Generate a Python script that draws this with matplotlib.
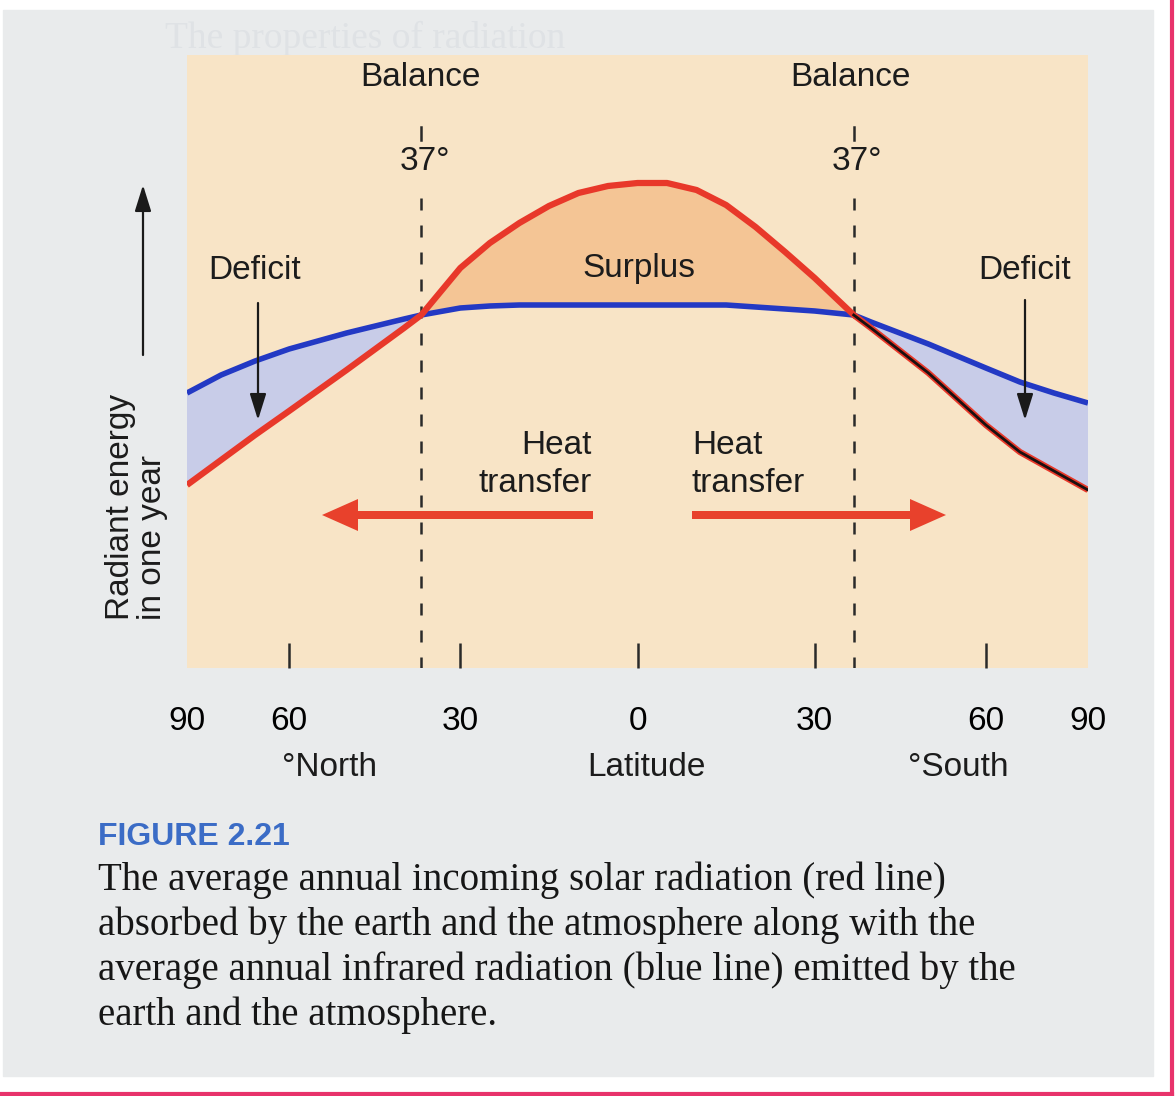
import numpy as np
import matplotlib
matplotlib.use('Agg')
import matplotlib.pyplot as plt
from matplotlib.patches import Rectangle, FancyArrow

plt.rcParams['font.family'] = ['Liberation Sans', 'DejaVu Sans']

# latitude, north negative / south positive
lat = [-90, -80, -70, -60, -50, -40, -37, -30, -25, -20, -15, -10, -5, 0,
       5, 10, 15, 20, 25, 30, 37, 40, 50, 60, 70, 80, 90]
# absorbed solar radiation (red line), arbitrary units
solar = [183, 208, 233, 257, 298, 340, 353, 400, 425, 445, 462, 475, 482, 485,
         485, 478, 463, 441, 416, 390, 353, 340, 295, 243, 216, 197, 178]
# emitted infrared radiation (blue line), arbitrary units
infrared = [275, 293, 307, 319, 335, 349, 353, 360, 362, 363, 363, 363, 363, 363,
            363, 363, 363, 361, 359, 357, 353, 346, 324, 300, 286, 275, 265]

tick_lat = [-90, -60, -30, 0, 30, 60, 90]
tick_txt = ['90', '60', '30', '0', '30', '60', '90']
balance_lat = [-37, 37]

# latitude axis is stretched like in the book figure
knot_lat = [0, 30, 37, 60, 90]
knot_pos = [0, 177, 216, 348, 450]

def fwd(x):
    x = np.asarray(x, dtype=float)
    return np.sign(x) * np.interp(np.abs(x), knot_lat, knot_pos)

def inv(x):
    x = np.asarray(x, dtype=float)
    return np.sign(x) * np.interp(np.abs(x), knot_pos, knot_lat)

W, H = 1176, 1096
def fx(x):
    return x / W
def fy(y):
    return 1 - y / H

fig = plt.figure(figsize=(W / 100, H / 100), dpi=100)
fig.patch.set_facecolor('white')

# page background + pink frame
fig.add_artist(Rectangle((fx(3), fy(1076)), fx(1153) - fx(3), fy(10) - fy(1076),
                         transform=fig.transFigure, color='#e9ebec', zorder=-3))
fig.add_artist(plt.Line2D([fx(1172), fx(1172)], [0, 1], transform=fig.transFigure,
                          color='#e8336b', lw=3, zorder=-2))
fig.add_artist(plt.Line2D([0, fx(1172)], [fy(1094), fy(1094)], transform=fig.transFigure,
                          color='#e8336b', lw=3, zorder=-2))
fig.text(fx(165), fy(38), 'The properties of radiation', family='Liberation Serif',
         fontsize=27, color='#dfe2e5', va='center', zorder=-1)

ax = fig.add_axes([fx(187), fy(668), fx(1088) - fx(187), fy(55) - fy(668)])
ax.set_facecolor('#f8e4c6')
for s in ax.spines.values():
    s.set_visible(False)
ax.set_xscale('function', functions=(fwd, inv))
ax.set_xlim(-90, 90)
ax.set_ylim(0, 613)

lat_a = np.array(lat)
sol = np.array(solar)
ir = np.array(infrared)

ax.fill_between(lat_a, sol, ir, where=sol >= ir, interpolate=True, color='#f4c595', lw=0, zorder=1)
ax.fill_between(lat_a, sol, ir, where=sol <= ir, interpolate=True, color='#c8cce8', lw=0, zorder=1)

ax.plot(lat_a, ir, color='#2339c4', lw=4, solid_capstyle='butt', solid_joinstyle='round', zorder=3)
ax.plot(lat_a, sol, color='#e8382a', lw=4.5, solid_capstyle='butt', solid_joinstyle='round', zorder=4)
south = lat_a >= 37
ax.plot(lat_a[south], sol[south], color='#1a1010', lw=2, zorder=5)

# balance lines at 37 degrees
for b in balance_lat:
    ax.plot([b, b], [470, 0], color='#2a2a2a', lw=1.8, ls=(0, (4.8, 6)), zorder=2)
    ax.plot([b, b], [541, 528], color='#2a2a2a', lw=1.8, zorder=2)

ax.set_yticks([])
ax.set_xticks(tick_lat)
ax.set_xticklabels(tick_txt)
ax.tick_params(axis='x', direction='in', length=18, width=1.8, color='#2a2a2a',
               labelsize=24, pad=27)
for t in (ax.xaxis.get_major_ticks()[0], ax.xaxis.get_major_ticks()[-1]):
    t.tick1line.set_visible(False)

txt = dict(fontsize=24, color='#1c1c1c')
fig.text(fx(420), fy(78), 'Balance', ha='center', va='center', **txt)
fig.text(fx(850), fy(78), 'Balance', ha='center', va='center', **txt)
fig.text(fx(425), fy(162), '37°', ha='center', va='center', **txt)
fig.text(fx(857), fy(162), '37°', ha='center', va='center', **txt)
fig.text(fx(639), fy(268), 'Surplus', ha='center', va='center', **txt)
fig.text(fx(255), fy(270), 'Deficit', ha='center', va='center', **txt)
fig.text(fx(1025), fy(270), 'Deficit', ha='center', va='center', **txt)
fig.text(fx(592), fy(446), 'Heat', ha='right', va='center', **txt)
fig.text(fx(592), fy(483), 'transfer', ha='right', va='center', **txt)
fig.text(fx(692), fy(446), 'Heat', ha='left', va='center', **txt)
fig.text(fx(692), fy(483), 'transfer', ha='left', va='center', **txt)
fig.text(fx(330), fy(767), '°North', ha='center', va='center', **txt)
fig.text(fx(646), fy(767), 'Latitude', ha='center', va='center', **txt)
fig.text(fx(958), fy(767), '°South', ha='center', va='center', **txt)
fig.text(fx(121), fy(620), 'Radiant energy', rotation=90, ha='center', va='bottom', **txt)
fig.text(fx(153), fy(620), 'in one year', rotation=90, ha='center', va='bottom', **txt)

arr = dict(arrowstyle='-|>,head_length=0.8,head_width=0.25', color='#1a1a1a', lw=1.6,
           mutation_scale=20, shrinkA=0, shrinkB=0)
for x0, y0, y1 in [(143, 355, 185), (258, 303, 420), (1025, 300, 420)]:
    fig.add_artist(plt.Annotation('', xy=(fx(x0), fy(y1)), xytext=(fx(x0), fy(y0)),
                                  xycoords='figure fraction', arrowprops=arr))

# heat transfer arrows
for x0, x1 in [(593, 322), (692, 946)]:
    fig.add_artist(FancyArrow(fx(x0), fy(515), fx(x1) - fx(x0), 0, width=8 / H,
                              head_width=32 / H, head_length=36 / W,
                              length_includes_head=True, transform=fig.transFigure,
                              color='#e8412c', lw=0, zorder=6))

# caption
fig.text(fx(98), fy(845), 'FIGURE 2.21', fontsize=23, weight='bold',
         color='#3b6cc6', va='baseline')
caption = ['The average annual incoming solar radiation (red line)',
           'absorbed by the earth and the atmosphere along with the',
           'average annual infrared radiation (blue line) emitted by the',
           'earth and the atmosphere.']
for i, line in enumerate(caption):
    fig.text(fx(98), fy(890 + 45 * i), line, family='Liberation Serif', fontsize=28,
             color='#161616', va='baseline')

fig.savefig('out.png', dpi=100)
